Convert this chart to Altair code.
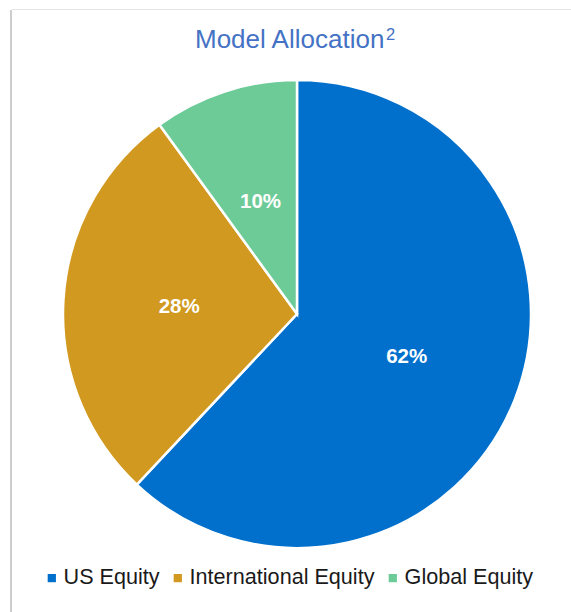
import altair as alt
import pandas as pd

categories = ["US Equity", "International Equity", "Global Equity"]
values = [62, 28, 10]
labels = ["62%", "28%", "10%"]
colors = ["#0070CC", "#D1991F", "#6DCB98"]

df = pd.DataFrame({"category": categories, "value": values, "label": labels, "order": [0, 1, 2]})

W, H = 571, 612
CX, CY = 297, 314

color = alt.Color("category:N", scale=alt.Scale(domain=categories, range=colors),
                  legend=alt.Legend(title=None, orient="none", legendX=41, legendY=567,
                                    direction="horizontal", symbolType="square", symbolSize=68,
                                    labelFont="Liberation Sans", labelFontSize=21.6, labelColor="#1A1A1A",
                                    columnPadding=7, labelOffset=1, labelLimit=0,
                                    symbolStrokeWidth=0, padding=0))

base = alt.Chart(df)

pie = base.mark_arc(stroke="white", strokeWidth=2.5).encode(
    theta=alt.Theta("value:Q", stack=True),
    color=color,
    order=alt.Order("order:Q"),
    x=alt.value(CX), y=alt.value(CY),
    radius=alt.value(234),
)

text = base.mark_text(font="Liberation Sans", fontSize=20.5, fontWeight="bold", color="white").encode(
    theta=alt.Theta("value:Q", stack=True),
    order=alt.Order("order:Q"),
    text="label:N",
    x=alt.value(CX), y=alt.value(CY),
    radius=alt.value(118),
)

title = alt.Chart(pd.DataFrame({"t": ["Model Allocation"]})).mark_text(
    font="Liberation Sans", fontSize=26, color="#4472C4", align="left", baseline="alphabetic"
).encode(text="t:N", x=alt.value(195), y=alt.value(48))

sup = alt.Chart(pd.DataFrame({"t": ["2"]})).mark_text(
    font="Liberation Sans", fontSize=16.5, color="#4472C4", align="left", baseline="alphabetic"
).encode(text="t:N", x=alt.value(386), y=alt.value(40))

left_rule = alt.Chart(pd.DataFrame({"a": [0]})).mark_rule(color="#BDBDBD", strokeWidth=1.5).encode(
    x=alt.value(11), y=alt.value(10), y2=alt.value(H))
top_rule = alt.Chart(pd.DataFrame({"a": [0]})).mark_rule(color="#E3E3E3", strokeWidth=1).encode(
    x=alt.value(12), x2=alt.value(W), y=alt.value(9.5))

chart = alt.layer(left_rule, top_rule, pie, text, title, sup).properties(
    width=W, height=H, padding=0, autosize=alt.AutoSizeParams(type="none"),
    background="white"
).configure_view(stroke=None)

chart.save("out.html", embed_options={"renderer": "svg", "actions": False})
